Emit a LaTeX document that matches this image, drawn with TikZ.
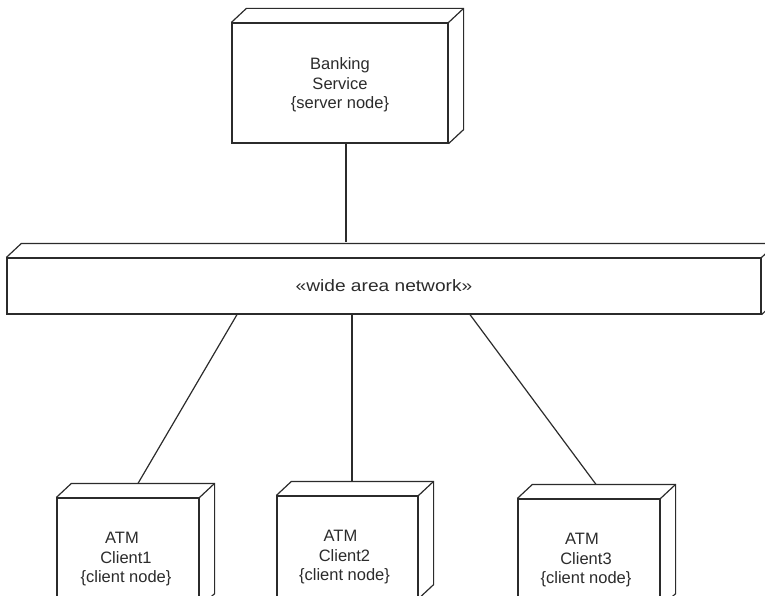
\documentclass[tikz,border=0pt]{standalone}
\usepackage{fontspec}
\setmainfont{Liberation Sans}
\usetikzlibrary{calc}
\definecolor{ink}{HTML}{2B2B2B}
\tikzset{
  edge/.style={draw=ink, line width=1.2pt, line join=miter},
  dnode/.style={edge, inner sep=0pt, minimum width=#1},
  lbl/.style={inner sep=0pt, align=center, text=ink, anchor=north,
    font=\fontsize{16.5}{19.5}\selectfont},
}
\newcommand{\depthfaces}[1]{%
  \draw[edge] (#1.north west) -- ++(15,-14) -| ($(#1.south east)+(15,-14)$) -- (#1.south east);
  \draw[edge] (#1.north east) -- ++(15,-14);
}
\begin{document}
\begin{tikzpicture}[x=1pt,y=-1pt]
\useasboundingbox (0,0) rectangle (765,596);
\clip (0,0) rectangle (765,596);
% nodes
\node[dnode=216pt, minimum height=120pt] (bank) at (340,83) {};
\node[dnode=754pt, minimum height=56pt, text=ink, font=\fontsize{16.5}{19.5}\selectfont] (wan) at (384,286) {\scalebox{1.16}[1]{«wide area network»}};
\node[dnode=142pt, minimum height=109pt] (atm1) at (128,552.5) {};
\node[dnode=141pt, minimum height=102pt] (atm2) at (347.5,547) {};
\node[dnode=142pt, minimum height=108pt] (atm3) at (589,553) {};
\foreach \n in {bank,wan,atm1,atm2,atm3} {\depthfaces{\n}}
% labels
\node[lbl] (banklbl) at ([yshift=-35pt]bank.north) {Banking\\Service\\\{server node\}};
\node[lbl] (atm1lbl) at ([xshift=-2pt,yshift=-35pt]atm1.north) {ATM\hspace*{8pt}\\Client1\\\{client node\}};
\node[lbl] (atm2lbl) at ([xshift=-3pt,yshift=-35pt]atm2.north) {ATM\hspace*{8pt}\\Client2\\\{client node\}};
\node[lbl] (atm3lbl) at ([xshift=-3pt,yshift=-35pt]atm3.north) {ATM\hspace*{8pt}\\Client3\\\{client node\}};
% connector end points
\coordinate (wantop) at ([yshift=15pt]wan.north);
\coordinate (b1) at ([xshift=6pt]bank.south);
\coordinate (w1) at ([xshift=-147pt]wan.south);
\coordinate (w2) at ([xshift=-32pt]wan.south);
\coordinate (w3) at ([xshift=86pt]wan.south);
\coordinate (a1) at ([xshift=10pt,yshift=14pt]atm1.north);
\coordinate (a2) at ([xshift=4.5pt,yshift=14pt]atm2.north);
\coordinate (a3) at ([xshift=7pt,yshift=14pt]atm3.north);
% connectors
\draw[edge] (b1) -- (b1 |- wantop);
\draw[edge] (w1) -- (a1);
\draw[edge] (w2) -- (a2);
\draw[edge] (w3) -- (a3);
\end{tikzpicture}
\end{document}
